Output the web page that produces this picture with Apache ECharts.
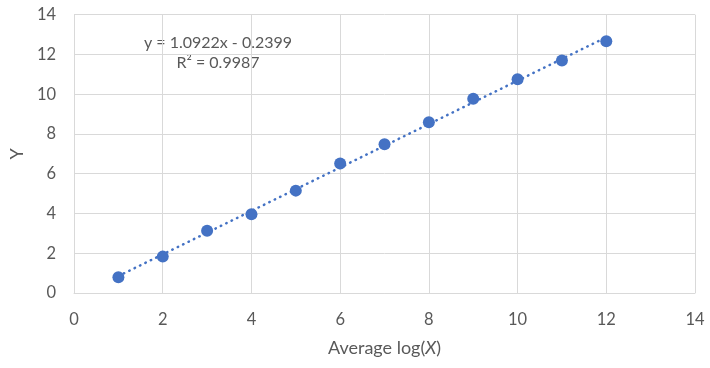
<!DOCTYPE html>
<html>
<head>
<meta charset="utf-8">
<script src="https://cdn.jsdelivr.net/npm/echarts@6/dist/echarts.min.js"></script>
<style>html,body{margin:0;padding:0;background:#fff}#c{width:710px;height:368px}</style>
</head>
<body>
<div id="c"></div>
<script>
var xValues = [1, 2, 3, 4, 5, 6, 7, 8, 9, 10, 11, 12];
var yValues = [0.79, 1.83, 3.13, 3.96, 5.15, 6.52, 7.48, 8.59, 9.77, 10.75, 11.70, 12.66];
var trendSlope = 1.0922;
var trendIntercept = -0.2399;
var trendRange = [1, 12];
var eqLabel = 'y = 1.0922x - 0.2399';
var r2Label = 'R² = 0.9987';

var pts = xValues.map(function (x, i) { return [x, yValues[i]]; });
var trend = trendRange.map(function (x) { return [x, trendSlope * x + trendIntercept]; });
var FONT = 'Lato';
var chart = echarts.init(document.getElementById('c'), null, {renderer: 'canvas'});
chart.setOption({
  animation: false,
  backgroundColor: '#fff',
  grid: {left: 73.5, right: 15, top: 14.7, bottom: 75, containLabel: false},
  xAxis: {
    type: 'value', min: 0, max: 14, interval: 2,
    name: 'Average log({i|X})', nameLocation: 'middle', nameGap: 46,
    nameTextStyle: {color: '#595959', fontSize: 18, fontFamily: FONT,
      rich: {i: {fontStyle: 'italic', color: '#595959', fontSize: 18, fontFamily: FONT}}},
    axisLine: {show: true, lineStyle: {color: '#d9d9d9', width: 1}},
    axisTick: {show: false},
    axisLabel: {color: '#595959', fontSize: 16.5, fontFamily: FONT, margin: 18},
    splitLine: {show: true, lineStyle: {color: '#d9d9d9', width: 1}}
  },
  yAxis: {
    type: 'value', min: 0, max: 14, interval: 2,
    name: 'Y', nameLocation: 'middle', nameGap: 46, nameRotate: 90,
    nameTextStyle: {color: '#595959', fontSize: 18, fontFamily: FONT},
    axisLine: {show: true, lineStyle: {color: '#d9d9d9', width: 1}},
    axisTick: {show: false},
    axisLabel: {color: '#595959', fontSize: 16.5, fontFamily: FONT, margin: 18},
    splitLine: {show: true, lineStyle: {color: '#d9d9d9', width: 1}}
  },
  graphic: [
    {type: 'text', position: [218, 43], style: {text: eqLabel, x: 0, y: 0, fill: '#595959', fontSize: 16, fontFamily: FONT, textAlign: 'center', textVerticalAlign: 'middle'}},
    {type: 'text', position: [218, 63], style: {text: r2Label, x: 0, y: 0, fill: '#595959', fontSize: 16, fontFamily: FONT, textAlign: 'center', textVerticalAlign: 'middle'}}
  ],
  series: [
    {
      type: 'line', data: trend, symbol: 'none', silent: true, z: 2,
      lineStyle: {color: '#4472C4', width: 2.5, type: [0.5, 5.5], cap: 'round'}
    },
    {
      type: 'scatter', data: pts, symbol: 'circle', symbolSize: 12, z: 3,
      itemStyle: {color: '#4472C4', opacity: 1}
    }
  ]
});
</script>
</body>
</html>
